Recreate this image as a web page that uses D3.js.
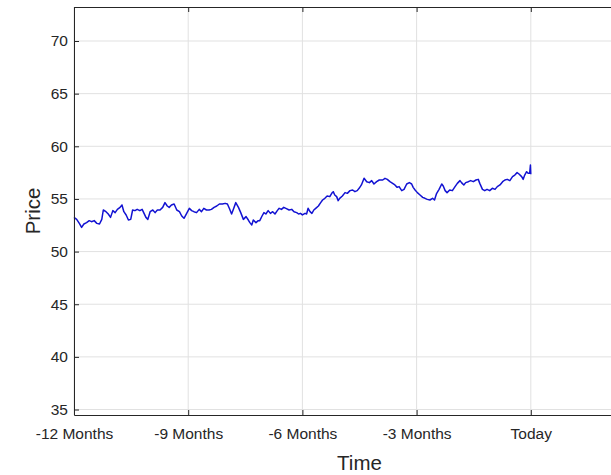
<!DOCTYPE html>
<html>
<head>
<meta charset="utf-8">
<script src="https://cdn.jsdelivr.net/npm/d3@7"></script>
<style>
  body { margin: 0; background: #fff; }
  svg { display: block; font-family: "Liberation Sans", Arial, Helvetica, sans-serif; }
</style>
</head>
<body>
<div id="chart"></div>
<script>
// time in months relative to today, price
const months = [
  -12.00, -11.93, -11.86, -11.80, -11.74, -11.67, -11.60, -11.54, -11.47, -11.40,
  -11.33, -11.27, -11.23, -11.16, -11.10, -11.04, -10.98, -10.92, -10.86, -10.79,
  -10.74, -10.69, -10.63, -10.57, -10.51, -10.46, -10.40, -10.34, -10.27, -10.21,
  -10.16, -10.11, -10.06, -10.00, -9.93, -9.87, -9.81, -9.74, -9.67, -9.61,
  -9.55, -9.50, -9.44, -9.37, -9.30, -9.23, -9.17, -9.11, -9.04, -8.97,
  -8.91, -8.85, -8.78, -8.71, -8.65, -8.59, -8.52, -8.45, -8.39, -8.32,
  -8.25, -8.18, -8.10, -8.03, -7.97, -7.92, -7.86, -7.82, -7.75, -7.68,
  -7.62, -7.55, -7.48, -7.42, -7.38, -7.33, -7.29, -7.22, -7.16, -7.12,
  -7.06, -7.01, -6.96, -6.90, -6.84, -6.78, -6.72, -6.66, -6.61, -6.55,
  -6.49, -6.42, -6.35, -6.28, -6.22, -6.15, -6.10, -6.05, -6.00, -5.93,
  -5.89, -5.85, -5.80, -5.75, -5.70, -5.65, -5.58, -5.52, -5.47, -5.41,
  -5.35, -5.28, -5.23, -5.19, -5.15, -5.10, -5.06, -5.02, -4.95, -4.88,
  -4.82, -4.75, -4.68, -4.62, -4.56, -4.51, -4.45, -4.38, -4.31, -4.24,
  -4.18, -4.12, -4.05, -3.98, -3.89, -3.83, -3.77, -3.70, -3.63, -3.57,
  -3.51, -3.46, -3.39, -3.33, -3.26, -3.19, -3.13, -3.09, -3.04, -2.98,
  -2.91, -2.84, -2.78, -2.72, -2.65, -2.58, -2.53, -2.48, -2.41, -2.34,
  -2.30, -2.25, -2.20, -2.13, -2.06, -1.99, -1.93, -1.86, -1.82, -1.76,
  -1.71, -1.64, -1.58, -1.51, -1.44, -1.38, -1.34, -1.27, -1.21, -1.15,
  -1.08, -1.01, -0.94, -0.88, -0.81, -0.74, -0.68, -0.62, -0.55, -0.48,
  -0.42, -0.36, -0.31, -0.24, -0.20, -0.16, -0.11, -0.07, -0.03, -0.01,
  0.00
];
const price = [
  53.25, 53.06, 52.68, 52.30, 52.62, 52.75, 52.94, 52.84, 52.94, 52.68,
  52.62, 53.06, 53.95, 53.79, 53.57, 53.25, 53.89, 53.70, 54.01, 54.20,
  54.43, 53.79, 53.48, 53.00, 53.06, 53.95, 53.89, 54.01, 53.89, 54.01,
  53.63, 53.25, 53.06, 53.79, 53.95, 53.70, 53.95, 53.95, 54.20, 54.65,
  54.33, 54.20, 54.43, 54.52, 53.95, 53.79, 53.38, 53.16, 53.63, 54.11,
  53.89, 53.79, 53.70, 54.01, 53.79, 54.11, 53.95, 53.95, 54.01, 54.20,
  54.33, 54.52, 54.52, 54.58, 54.52, 54.11, 53.57, 53.95, 54.65, 54.20,
  53.70, 53.06, 53.32, 53.00, 52.75, 52.53, 53.00, 52.75, 52.94, 52.94,
  53.38, 53.70, 53.57, 53.89, 53.63, 53.79, 53.57, 53.89, 54.11, 54.01,
  54.20, 54.08, 53.95, 54.01, 53.79, 53.70, 53.57, 53.63, 53.48, 53.63,
  53.57, 54.11, 53.79, 53.63, 53.95, 54.11, 54.33, 54.65, 54.90, 55.06,
  55.28, 55.22, 55.53, 55.69, 55.38, 55.22, 54.84, 55.06, 55.28, 55.60,
  55.53, 55.79, 55.85, 55.69, 55.79, 56.01, 56.33, 56.96, 56.64, 56.55,
  56.74, 56.42, 56.64, 56.80, 56.80, 56.96, 56.86, 56.64, 56.48, 56.33,
  56.10, 56.17, 55.79, 55.91, 56.42, 56.55, 56.42, 56.10, 55.85, 55.60,
  55.38, 55.15, 55.06, 54.96, 54.90, 55.06, 54.90, 55.47, 55.91, 56.42,
  56.23, 55.79, 55.60, 55.85, 55.79, 56.17, 56.48, 56.74, 56.55, 56.33,
  56.55, 56.64, 56.74, 56.64, 56.80, 56.86, 56.48, 55.91, 55.79, 55.91,
  55.79, 56.01, 55.91, 56.17, 56.33, 56.64, 56.80, 56.86, 56.74, 57.12,
  57.27, 57.50, 57.37, 57.12, 56.86, 57.27, 57.59, 57.43, 57.43, 58.22,
  57.35
];
const xTicks = [-12, -9, -6, -3, 0];
const xTickLabels = ["-12 Months", "-9 Months", "-6 Months", "-3 Months", "Today"];
const yTicks = [35, 40, 45, 50, 55, 60, 65, 70];

const width = 611, height = 475;
const margin = { top: 7, left: 74, bottom: 415, right: 645 };
const axisColor = "#262626";

const svg = d3.select("#chart").append("svg")
  .attr("width", width)
  .attr("height", height);

const x = d3.scaleLinear().domain([-12, 3]).range([margin.left, margin.right]);
const y = d3.scaleLinear().domain([34.48, 73.23]).range([margin.bottom, margin.top]);

// grid
svg.append("g").selectAll("line")
  .data(xTicks)
  .enter().append("line")
  .attr("x1", d => x(d)).attr("x2", d => x(d))
  .attr("y1", margin.top).attr("y2", margin.bottom)
  .attr("stroke", "#e1e1e1").attr("stroke-width", 1);

svg.append("g").selectAll("line")
  .data(yTicks)
  .enter().append("line")
  .attr("x1", margin.left).attr("x2", margin.right)
  .attr("y1", d => y(d)).attr("y2", d => y(d))
  .attr("stroke", "#e1e1e1").attr("stroke-width", 1);

// price line
const series = months.map((m, i) => ({ m: m, p: price[i] }));
svg.append("path")
  .datum(series)
  .attr("fill", "none")
  .attr("stroke", "#1212d2")
  .attr("stroke-width", 1.5)
  .attr("stroke-linejoin", "round")
  .attr("d", d3.line().x(d => x(d.m)).y(d => y(d.p)));

// axes
const xAxis = svg.append("g")
  .attr("transform", `translate(0,${margin.bottom})`)
  .call(d3.axisBottom(x).tickValues(xTicks)
    .tickFormat((d, i) => xTickLabels[i])
    .tickSizeInner(-5).tickSizeOuter(0).tickPadding(13));

const xTop = svg.append("g")
  .attr("transform", `translate(0,${margin.top})`)
  .call(d3.axisTop(x).tickValues(xTicks).tickFormat("")
    .tickSizeInner(-5).tickSizeOuter(0));

const yAxis = svg.append("g")
  .attr("transform", `translate(${margin.left},0)`)
  .call(d3.axisLeft(y).tickValues(yTicks)
    .tickSizeInner(-5).tickSizeOuter(0).tickPadding(6));

[xAxis, xTop, yAxis].forEach(g => {
  g.select(".domain").attr("stroke", axisColor);
  g.selectAll(".tick line").attr("stroke", axisColor);
  g.selectAll("text")
    .attr("fill", axisColor)
    .attr("font-size", 15.5)
    .attr("font-family", "'Liberation Sans', Arial, sans-serif");
});

// axis titles
svg.append("text")
  .attr("x", (margin.left + margin.right) / 2)
  .attr("y", 470)
  .attr("font-size", 20.5)
  .attr("fill", axisColor)
  .style("text-anchor", "middle")
  .text("Time");

svg.append("text")
  .attr("transform", "rotate(-90)")
  .attr("x", -(margin.top + margin.bottom) / 2)
  .attr("y", 40)
  .attr("font-size", 20.5)
  .attr("fill", axisColor)
  .style("text-anchor", "middle")
  .text("Price");
</script>
</body>
</html>
